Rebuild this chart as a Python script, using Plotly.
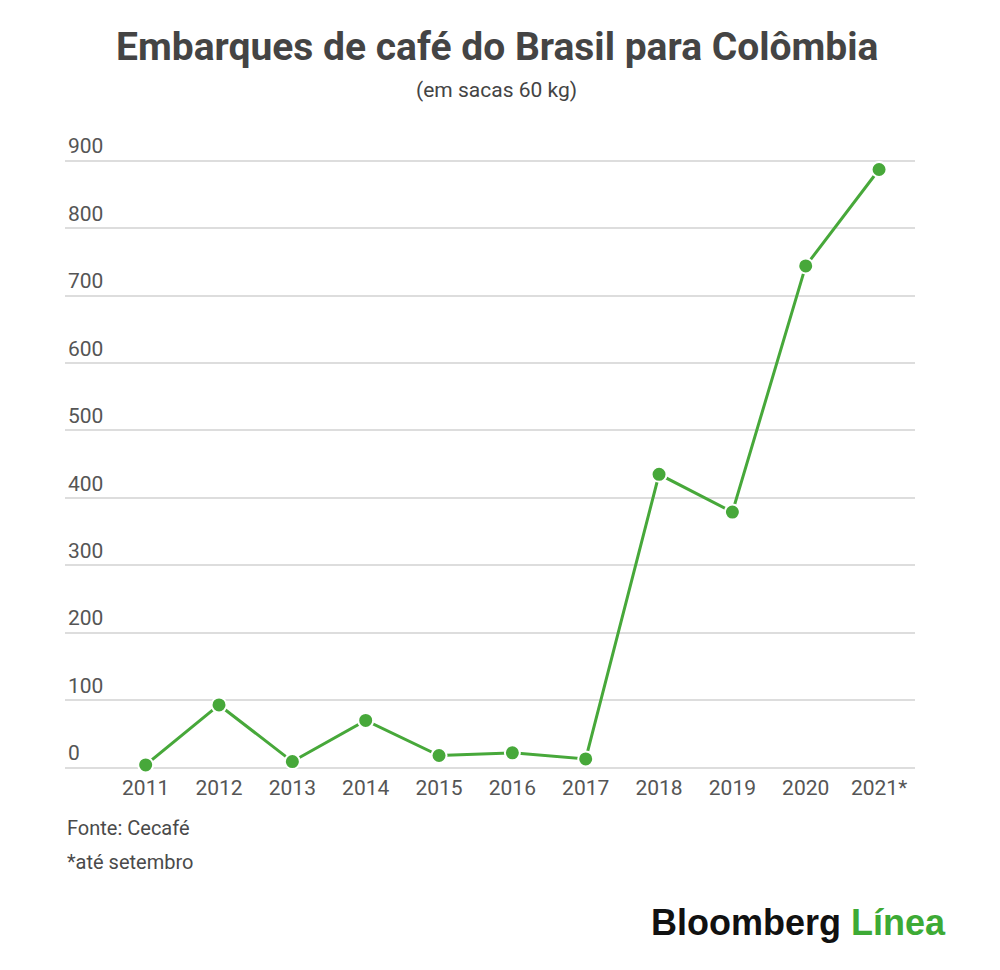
import plotly.graph_objects as go

# Embarques de café do Brasil para Colômbia (sacas 60 kg)
years = ['2011', '2012', '2013', '2014', '2015', '2016', '2017', '2018', '2019', '2020', '2021*']
shipments = [4, 93, 9, 70, 18, 22, 13, 435, 379, 744, 887]
y_ticks = [0, 100, 200, 300, 400, 500, 600, 700, 800, 900]

green = '#47a83a'
text_grey = '#4a4a4a'

# the page body has an 8px margin, so the figure is drawn 8px smaller
OFF = 8
W, H = 1000 - OFF, 970 - OFF
L, R, T, B = 65 - OFF, 85, 125 - OFF, 201

fig = go.Figure()
fig.add_trace(go.Scatter(
    x=years, y=shipments,
    mode='lines+markers',
    line=dict(color=green, width=3),
    marker=dict(color=green, size=15, line=dict(color='white', width=2)),
    cliponaxis=False,
    hoverinfo='x+y',
))

fig.update_layout(
    width=W, height=H,
    margin=dict(l=L, r=R, t=T, b=B, autoexpand=False),
    plot_bgcolor='white', paper_bgcolor='white',
    showlegend=False,
    font=dict(family='Roboto', color=text_grey),
    xaxis=dict(
        type='category', range=[-1.1, 10.49],
        showgrid=False, showline=False, zeroline=False,
        ticks='', ticklabelstandoff=4,
        tickfont=dict(size=21, color='#555555'),
    ),
    yaxis=dict(
        range=[-2, 953], tickvals=y_ticks,
        showgrid=True, gridcolor='#dddddd', gridwidth=1.5,
        zeroline=False, showline=False, ticks='',
        ticklabelposition='inside top',
        tickfont=dict(size=21, color='#555555'),
    ),
)


def add_text(txt, x_px, y_px, size, color, xanchor='center', family='Roboto'):
    # page pixel position -> paper coords of the plot area
    pw = W - L - R
    ph = H - T - B
    xp = (x_px - OFF - L) / pw
    yp = (H - B - (y_px - OFF)) / ph
    fig.add_annotation(text=txt, x=xp, y=yp, xref='paper', yref='paper',
                       xanchor=xanchor, yanchor='middle', showarrow=False,
                       font=dict(size=size, color=color, family=family))


add_text('<b>Embarques de café do Brasil para Colômbia</b>', 497, 47, 39, '#444444')
add_text('(em sacas 60 kg)', 497, 90, 21, '#444444')
add_text('Fonte: Cecafé', 65, 828, 20, text_grey, xanchor='left')
add_text('*até setembro', 65, 862, 20, text_grey, xanchor='left')
add_text('<b>Bloomberg</b> <b><span style="color:#3daa35">Línea</span></b>',
         948, 922, 36, '#111111', xanchor='right', family='Liberation Sans')

fig.write_html('out.html')
